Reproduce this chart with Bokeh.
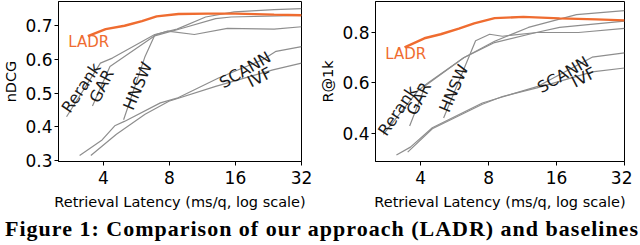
from bokeh.plotting import figure
from bokeh.models import Range1d, FixedTicker, Label, Div
from bokeh.layouts import row, column
from bokeh.embed import file_html
from bokeh.resources import INLINE

# ---------------- data ----------------
x_ticks = [4, 8, 16, 32]
x_tick_labels = ["4", "8", "16", "32"]

# nDCG panel
ndcg_ladr_lat = [3.4, 4.1, 5.0, 6.0, 7.0, 8.8, 12, 16, 24, 32]
ndcg_ladr_val = [0.669, 0.690, 0.700, 0.714, 0.728, 0.735, 0.736, 0.736, 0.733, 0.731]
ndcg_rerank_lat = [2.72, 3.88, 4.4, 6.86, 8.67, 11.7, 15.8, 24, 32]
ndcg_rerank_val = [0.430, 0.589, 0.604, 0.674, 0.690, 0.726, 0.741, 0.748, 0.751]
ndcg_gar_lat = [3.57, 4.29, 6.86, 8.67, 13, 15.3, 32]
ndcg_gar_val = [0.462, 0.579, 0.670, 0.688, 0.721, 0.726, 0.731]
ndcg_hnsw_lat = [4.95, 6.2, 6.86, 7.85, 10.4, 14.7, 24, 32]
ndcg_hnsw_val = [0.421, 0.609, 0.672, 0.684, 0.674, 0.692, 0.690, 0.697]
ndcg_scann_lat = [3.12, 3.95, 4.51, 4.99, 7.28, 8.67, 13.4, 21.4, 24.5, 32]
ndcg_scann_val = [0.315, 0.361, 0.403, 0.416, 0.471, 0.485, 0.545, 0.600, 0.624, 0.638]
ndcg_ivf_lat = [3.51, 4.59, 6.2, 7.96, 13, 23.7, 32]
ndcg_ivf_val = [0.315, 0.378, 0.437, 0.476, 0.52, 0.569, 0.589]
ndcg_ticks = [0.3, 0.4, 0.5, 0.6, 0.7]

# R@1k panel
r1k_ladr_lat = [3.39, 4.15, 4.9, 5.9, 6.9, 8.5, 11.4, 16.5, 24, 32]
r1k_ladr_val = [0.741, 0.777, 0.793, 0.815, 0.836, 0.857, 0.862, 0.856, 0.852, 0.848]
r1k_rerank_lat = [2.73, 3.9, 4.3, 6.2, 8.5, 12, 19.6, 32]
r1k_rerank_val = [0.396, 0.57, 0.60, 0.70, 0.765, 0.82, 0.871, 0.887]
r1k_gar_lat = [3.57, 4.2, 6.2, 8.5, 13, 16.5, 32]
r1k_gar_val = [0.429, 0.59, 0.70, 0.76, 0.80, 0.82, 0.845]
r1k_hnsw_lat = [5.05, 7.0, 8.08, 9.2, 13.1, 20, 32]
r1k_hnsw_val = [0.461, 0.767, 0.793, 0.785, 0.80, 0.80, 0.816]
r1k_scann_lat = [3.12, 3.6, 4.5, 7.5, 8.5, 13.1, 23, 32]
r1k_scann_val = [0.314, 0.345, 0.422, 0.52, 0.535, 0.585, 0.702, 0.719]
r1k_ivf_lat = [3.5, 4.5, 7.5, 9.2, 13.1, 23, 32]
r1k_ivf_val = [0.325, 0.418, 0.515, 0.546, 0.58, 0.644, 0.659]
r1k_ticks = [0.4, 0.6, 0.8]

# inline line labels: (text, latency, value, angle in degrees)
ndcg_labels = [("Rerank", 3.17, 0.516, 56), ("GAR", 3.93, 0.521, 63),
               ("HNSW", 5.74, 0.521, 67), ("SCANN", 17.7, 0.569, 30),
               ("IVF", 20.6, 0.547, 27)]
ndcg_ladr_label = (3.43, 0.651)
r1k_labels = [("Rerank", 3.16, 0.49, 56), ("GAR", 3.92, 0.537, 63),
              ("HNSW", 5.6, 0.578, 67), ("SCANN", 17.1, 0.633, 30),
              ("IVF", 21.1, 0.622, 27)]
r1k_ladr_label = (3.43, 0.715)

caption = "Figure 1: Comparison of our approach (LADR) and baselines"

ORANGE = "#ef6c30"
GRAY = "#8e8e8e"
FONT = "DejaVu Sans"


def make_panel(series, ladr, ylabel, yticks, xr, yr, labels, ladr_label,
               width, min_left, min_right):
    p = figure(width=width, height=212, x_axis_type="log",
               x_range=Range1d(*xr), y_range=Range1d(*yr),
               output_backend="svg", toolbar_location=None,
               min_border_left=min_left, min_border_right=min_right,
               min_border_top=1, min_border_bottom=0)
    p.grid.visible = False
    p.outline_line_color = "black"
    p.outline_line_width = 1
    p.outline_line_alpha = 1
    for lat, val in series:
        p.line(lat, val, line_color=GRAY, line_width=1.2)
    p.line(ladr[0], ladr[1], line_color=ORANGE, line_width=2.4)
    # first pass: white boxes that hide the lines under the labels
    for txt, lx, ly, ang in labels:
        p.add_layout(Label(x=lx, y=ly, text=txt, angle=ang, angle_units="deg",
                           text_align="center", text_baseline="middle",
                           text_font=FONT, text_font_size="15px",
                           text_alpha=0, background_fill_color="white",
                           background_fill_alpha=1))
    # second pass: the label texts on top
    for txt, lx, ly, ang in labels:
        p.add_layout(Label(x=lx, y=ly, text=txt, angle=ang, angle_units="deg",
                           text_align="center", text_baseline="middle",
                           text_font=FONT, text_font_size="16px",
                           text_color="#1a1a1a"))
    p.add_layout(Label(x=ladr_label[0], y=ladr_label[1], text="LADR",
                       text_align="center", text_baseline="middle",
                       text_font=FONT, text_font_size="15px",
                       text_color=ORANGE))
    p.xaxis.ticker = FixedTicker(ticks=x_ticks)
    p.xaxis.major_label_overrides = {t: l for t, l in zip(x_ticks, x_tick_labels)}
    p.yaxis.ticker = FixedTicker(ticks=yticks)
    p.yaxis.major_label_overrides = {t: f"{t:.1f}" for t in yticks}
    for ax in (p.xaxis[0], p.yaxis[0]):
        ax.minor_tick_line_color = None
        ax.major_tick_in = 0
        ax.major_tick_out = 4
        ax.major_tick_line_color = "black"
        ax.axis_line_color = "black"
        ax.major_label_text_font = FONT
        ax.major_label_text_font_size = "17px"
        ax.major_label_text_color = "black"
        ax.axis_label_text_font = FONT
        ax.axis_label_text_font_size = "14.5px"
        ax.axis_label_text_font_style = "normal"
        ax.axis_label_text_color = "black"
    p.xaxis.major_label_standoff = 5
    p.xaxis.axis_label_standoff = 7
    p.yaxis.major_label_standoff = 2
    p.yaxis.axis_label_standoff = 3
    p.xaxis.axis_label = "Retrieval Latency (ms/q, log scale)"
    p.yaxis.axis_label = ylabel
    return p


p1 = make_panel(
    [(ndcg_rerank_lat, ndcg_rerank_val), (ndcg_gar_lat, ndcg_gar_val),
     (ndcg_hnsw_lat, ndcg_hnsw_val), (ndcg_scann_lat, ndcg_scann_val),
     (ndcg_ivf_lat, ndcg_ivf_val)],
    (ndcg_ladr_lat, ndcg_ladr_val), "nDCG", ndcg_ticks,
    (2.5, 32), (0.297, 0.772), ndcg_labels, ndcg_ladr_label,
    width=317, min_left=50, min_right=16)

p2 = make_panel(
    [(r1k_rerank_lat, r1k_rerank_val), (r1k_gar_lat, r1k_gar_val),
     (r1k_hnsw_lat, r1k_hnsw_val), (r1k_scann_lat, r1k_scann_val),
     (r1k_ivf_lat, r1k_ivf_val)],
    (r1k_ladr_lat, r1k_ladr_val), "R@1k", r1k_ticks,
    (2.52, 32), (0.288, 0.923), r1k_labels, r1k_ladr_label,
    width=315, min_left=54, min_right=8)

cap = Div(text=('<div style="margin-top:0px; line-height:24px; '
                'font-family: \'Liberation Serif\', serif; '
                'font-weight: bold; font-size: 22px; letter-spacing: 1px; '
                'white-space: nowrap; color: black;">' + caption + '</div>'),
          width=632, height=24)

layout = column(row(p1, p2), cap)
open("out.html", "w").write(file_html(layout, INLINE))
